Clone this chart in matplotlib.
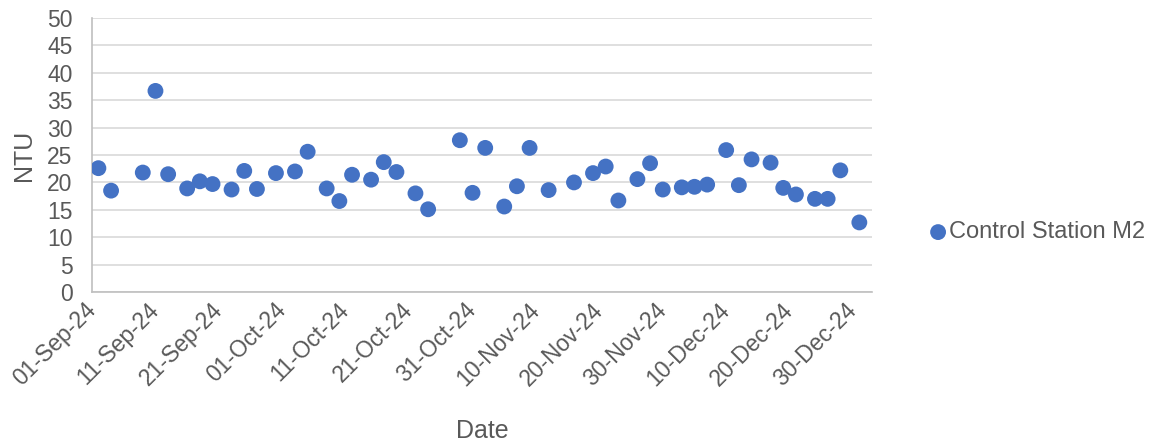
import matplotlib
matplotlib.use("Agg")
import matplotlib.pyplot as plt
import matplotlib.dates as mdates
import numpy as np
import pandas as pd

plt.rcParams['font.family'] = ['Liberation Sans', 'DejaVu Sans']

# Sampling dates and turbidity readings (NTU)
dates = [
    "2024-09-02", "2024-09-04", "2024-09-09", "2024-09-11", "2024-09-13",
    "2024-09-16", "2024-09-18", "2024-09-20", "2024-09-23", "2024-09-25",
    "2024-09-27", "2024-09-30", "2024-10-03", "2024-10-05", "2024-10-08",
    "2024-10-10", "2024-10-12", "2024-10-15", "2024-10-17", "2024-10-19",
    "2024-10-22", "2024-10-24", "2024-10-29", "2024-10-31", "2024-11-02",
    "2024-11-05", "2024-11-07", "2024-11-09", "2024-11-12", "2024-11-16",
    "2024-11-19", "2024-11-21", "2024-11-23", "2024-11-26", "2024-11-28",
    "2024-11-30", "2024-12-03", "2024-12-05", "2024-12-07", "2024-12-10",
    "2024-12-12", "2024-12-14", "2024-12-17", "2024-12-19", "2024-12-21",
    "2024-12-24", "2024-12-26", "2024-12-28", "2024-12-31",
]
ntu = [
    22.6, 18.5, 21.8, 36.7, 21.5, 18.9, 20.2, 19.7, 18.7, 22.1,
    18.8, 21.7, 22.0, 25.6, 18.9, 16.6, 21.4, 20.5, 23.7, 21.9,
    18.0, 15.1, 27.7, 18.1, 26.3, 15.6, 19.3, 26.3, 18.6, 20.0,
    21.7, 22.9, 16.7, 20.6, 23.5, 18.7, 19.1, 19.2, 19.6, 25.9,
    19.5, 24.2, 23.6, 19.0, 17.8, 17.0, 17.0, 22.2, 12.7,
]
series_name = "Control Station M2"
y_ticks = list(range(0, 51, 5))

x = pd.to_datetime(dates)
blue = "#4472C4"
text_col = "#595959"

fig = plt.figure(figsize=(11.55, 4.45), dpi=100)
ax = fig.add_axes([0.0797, 0.3438, 0.6753, 0.6157])

ax.scatter(x, ntu, s=130, color=blue, edgecolors="none", label=series_name, zorder=3)

ax.set_ylim(0, 50)
ax.set_yticks(y_ticks)
ax.set_xlim(pd.Timestamp("2024-09-01"), pd.Timestamp("2025-01-02"))
tick_dates = pd.date_range("2024-09-01", "2024-12-30", freq="10D")
ax.set_xticks(tick_dates)
ax.xaxis.set_major_formatter(mdates.DateFormatter("%d-%b-%y"))

ax.grid(axis="y", color="#D9D9D9", linewidth=1.2, zorder=0)
ax.set_axisbelow(True)
for side in ["top", "right"]:
    ax.spines[side].set_visible(False)
for side in ["left", "bottom"]:
    ax.spines[side].set_color("#BFBFBF")
    ax.spines[side].set_linewidth(1.2)

ax.tick_params(axis="y", length=0, pad=14, labelsize=16.5, labelcolor=text_col)
ax.tick_params(axis="x", length=0, pad=10.5, labelsize=16.5, labelcolor=text_col)
for lbl in ax.get_xticklabels():
    lbl.set_rotation(45)
    lbl.set_ha("right")
    lbl.set_va("center")
    lbl.set_rotation_mode("anchor")

ax.set_ylabel("NTU", fontsize=18, color=text_col, labelpad=8)
ax.set_xlabel("Date", fontsize=18, color=text_col, labelpad=21)

fig.legend(loc="center left", bbox_to_anchor=(0.803, 0.478), frameon=False,
           fontsize=17, labelcolor=text_col, handletextpad=0.0,
           handlelength=0.9, borderpad=0, borderaxespad=0, markerscale=1.0)

fig.savefig("out.png", dpi=100)
